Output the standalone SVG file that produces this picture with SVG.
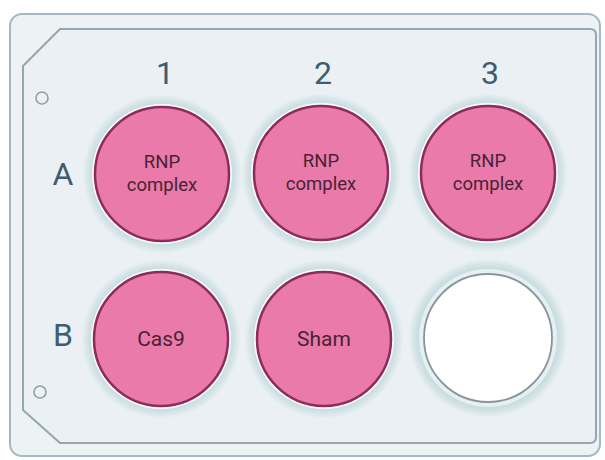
<svg xmlns="http://www.w3.org/2000/svg" width="605" height="460" viewBox="0 0 605 460">
<defs>
<style>
.lbl{font-family:Roboto,"Liberation Sans",sans-serif;fill:#3f5d70;font-size:32px;text-anchor:middle}
.wt{font-family:Roboto,"Liberation Sans",sans-serif;fill:#4a2236;text-anchor:middle}
.ring{fill:#f7fbfc}
.pink{fill:#e97aa9;stroke:#8b2c5c;stroke-width:2.5}
.empty{fill:#ffffff;stroke:#8a9599;stroke-width:1.8}
.hole{fill:none;stroke:#8fa0a8;stroke-width:1.6}
</style>
<radialGradient id="hg" cx="50%" cy="50%" r="50%">
<stop offset="0.86" stop-color="#c4d9dd"/>
<stop offset="0.93" stop-color="#d3e3e6"/>
<stop offset="1" stop-color="#e8eff2"/>
</radialGradient>
</defs>
<rect x="0" y="0" width="605" height="460" fill="#ffffff"/>
<g id="plate">
<rect x="10" y="14" width="590" height="442" rx="12" fill="#edf2f5" stroke="#a9b8c0" stroke-width="2"/>
<path d="M60 29 L590 29 Q596 29 596 35 L596 437 Q596 443 590 443 L60 443 L23 410 L23 66 Z" fill="#eaf0f3" stroke="#94a7b1" stroke-width="2"/>
<circle class="hole" cx="42" cy="98" r="6"/>
<circle class="hole" cx="40" cy="392" r="6"/>
</g>
<g id="labels">
<text class="lbl" x="165" y="84">1</text>
<text class="lbl" x="323" y="84">2</text>
<text class="lbl" x="490" y="84">3</text>
<text class="lbl" x="63" y="185">A</text>
<text class="lbl" x="63" y="346">B</text>
</g>
<g id="A1">
<circle cx="162" cy="174" r="79" fill="url(#hg)"/>
<circle class="ring" cx="162" cy="174" r="70"/>
<circle class="pink" cx="162" cy="174" r="67"/>
<text class="wt" x="162" y="168" font-size="18.5">RNP</text>
<text class="wt" x="162" y="191" font-size="18.5">complex</text>
</g>
<g id="A2">
<circle cx="321" cy="173" r="79" fill="url(#hg)"/>
<circle class="ring" cx="321" cy="173" r="70"/>
<circle class="pink" cx="321" cy="173" r="67"/>
<text class="wt" x="321" y="167" font-size="18.5">RNP</text>
<text class="wt" x="321" y="190" font-size="18.5">complex</text>
</g>
<g id="A3">
<circle cx="488" cy="173" r="79" fill="url(#hg)"/>
<circle class="ring" cx="488" cy="173" r="70"/>
<circle class="pink" cx="488" cy="173" r="67"/>
<text class="wt" x="488" y="167" font-size="18.5">RNP</text>
<text class="wt" x="488" y="190" font-size="18.5">complex</text>
</g>
<g id="B1">
<circle cx="161" cy="339" r="79" fill="url(#hg)"/>
<circle class="ring" cx="161" cy="339" r="70"/>
<circle class="pink" cx="161" cy="339" r="67"/>
<text class="wt" x="161" y="346" font-size="21">Cas9</text>
</g>
<g id="B2">
<circle cx="324" cy="339" r="79" fill="url(#hg)"/>
<circle class="ring" cx="324" cy="339" r="70"/>
<circle class="pink" cx="324" cy="339" r="67"/>
<text class="wt" x="324" y="346" font-size="21">Sham</text>
</g>
<g id="B3">
<circle cx="488" cy="338" r="79" fill="url(#hg)"/>
<circle cx="488" cy="338" r="69" fill="#e4f0f3"/>
<circle class="empty" cx="488" cy="338" r="64"/>
</g>
<g id="connectors"/>
</svg>
